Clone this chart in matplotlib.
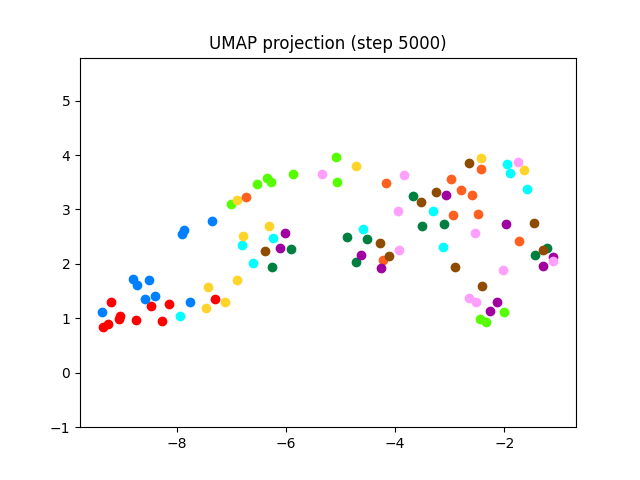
import matplotlib
matplotlib.use("Agg")
import matplotlib.pyplot as plt

classes = ["red", "blue", "cyan", "yellow", "lime", "orange", "darkgreen", "brown", "purple", "pink"]
colors = {
    "red": "#ff0000", "blue": "#0080ff", "cyan": "#00ffff", "yellow": "#ffd42a",
    "lime": "#55ff00", "orange": "#ff5f1f", "darkgreen": "#008040", "brown": "#8f4c00",
    "purple": "#a000a0", "pink": "#ffa0ff",
}

red_x = [-9.20, -8.47, -8.14, -7.30, -9.04, -9.06, -8.75, -8.27, -9.26, -9.34]
red_y = [1.30, 1.22, 1.27, 1.36, 1.05, 0.99, 0.97, 0.95, 0.89, 0.84]
blue_x = [-7.36, -7.86, -7.91, -8.80, -8.72, -8.51, -8.58, -8.39, -7.75, -9.36]
blue_y = [2.79, 2.63, 2.55, 1.72, 1.61, 1.70, 1.35, 1.41, 1.30, 1.12]
cyan_x = [-6.81, -7.94, -6.23, -6.60, -4.59, -3.30, -3.12, -1.95, -1.90, -1.58]
cyan_y = [2.34, 1.05, 2.47, 2.01, 2.65, 2.98, 2.31, 3.83, 3.67, 3.38]
lime_x = [-7.00, -5.08, -5.87, -6.34, -6.28, -5.07, -6.53, -2.01, -2.44, -2.34]
lime_y = [3.10, 3.97, 3.66, 3.57, 3.50, 3.50, 3.46, 1.11, 0.98, 0.94]
yellow_x = [-6.90, -6.78, -6.89, -7.43, -7.11, -7.47, -6.31, -4.71, -2.43, -1.64]
yellow_y = [3.18, 2.51, 1.70, 1.58, 1.30, 1.19, 2.70, 3.79, 3.94, 3.72]
orange_x = [-6.73, -4.17, -4.23, -2.43, -2.98, -2.80, -2.60, -2.95, -2.48, -1.73]
orange_y = [3.23, 3.48, 2.07, 3.74, 3.56, 3.35, 3.27, 2.89, 2.92, 2.42]
darkgreen_x = [-5.90, -6.26, -3.67, -3.51, -4.89, -4.52, -4.71, -3.11, -1.23, -1.44]
darkgreen_y = [2.28, 1.94, 3.25, 2.70, 2.50, 2.46, 2.04, 2.73, 2.30, 2.17]
brown_x = [-6.39, -3.26, -3.52, -4.28, -4.11, -2.65, -1.45, -1.29, -2.90, -2.41]
brown_y = [2.23, 3.33, 3.14, 2.38, 2.14, 3.86, 2.75, 2.25, 1.94, 1.60]
purple_x = [-6.01, -6.10, -4.63, -4.26, -3.07, -1.97, -1.12, -1.30, -2.14, -2.26]
purple_y = [2.57, 2.30, 2.17, 1.93, 3.27, 2.74, 2.12, 1.97, 1.30, 1.13]
pink_x = [-5.34, -3.83, -3.94, -3.93, -1.76, -2.53, -1.11, -2.03, -2.64, -2.52]
pink_y = [3.66, 3.64, 2.98, 2.25, 3.88, 2.56, 2.06, 1.88, 1.38, 1.30]

data = [
    ("red", red_x, red_y), ("blue", blue_x, blue_y), ("cyan", cyan_x, cyan_y),
    ("lime", lime_x, lime_y), ("yellow", yellow_x, yellow_y), ("orange", orange_x, orange_y),
    ("darkgreen", darkgreen_x, darkgreen_y), ("brown", brown_x, brown_y),
    ("purple", purple_x, purple_y), ("pink", pink_x, pink_y),
]

fig, ax = plt.subplots(figsize=(6.4, 4.8), dpi=100)
for name, xs, ys in data:
    ax.scatter(xs, ys, color=colors[name], s=36)

ax.set_xlim(-9.77, -0.69)
ax.set_ylim(-1.0, 5.79)
ax.set_title("UMAP projection (step 5000)")
fig.savefig("out.png", dpi=100)
